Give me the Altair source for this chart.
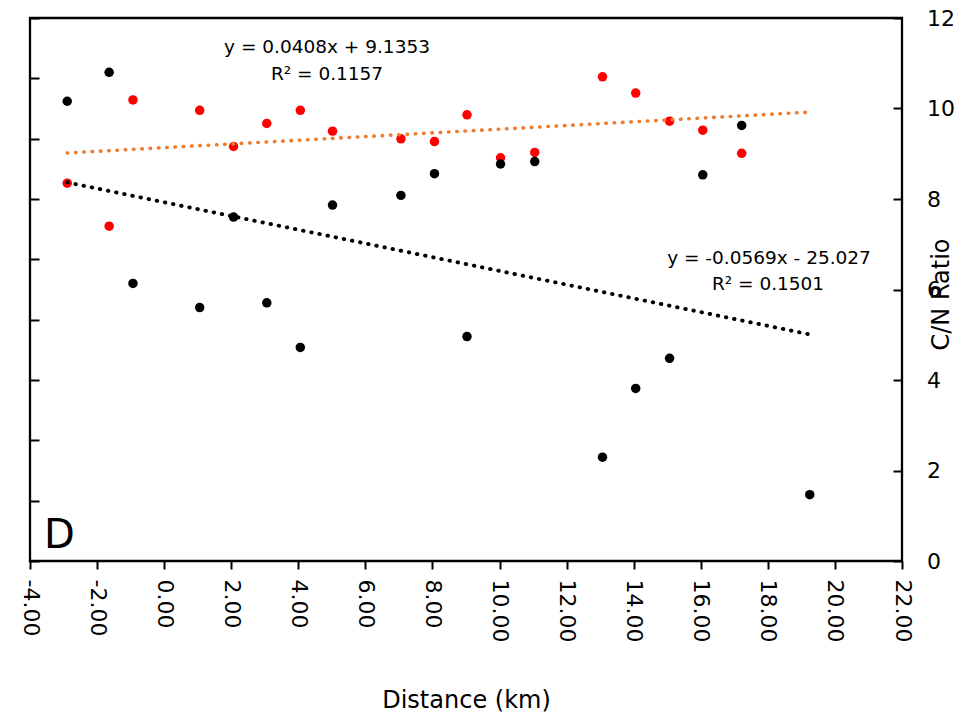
import altair as alt
import pandas as pd

# ---- data ----
distance_km = [-2.89, -1.64, -0.93, 1.06, 2.07, 3.06, 4.06, 5.02, 7.06, 8.06,
               9.03, 10.03, 11.05, 13.07, 14.06, 15.07, 16.06, 17.22, 19.25]
d13c_values = [-24.19, -23.95, -25.70, -25.90, -25.15, -25.86, -26.23, -25.05, -24.97, -24.79,
               -26.14, -24.71, -24.69, -27.14, -26.57, -26.32, -24.80, -24.39, -27.45]
cn_ratio = [8.35, 7.40, 10.19, 9.96, 9.16, 9.67, 9.96, 9.50, 9.33, 9.27,
            9.86, 8.91, 9.03, 10.70, 10.34, 9.72, 9.52, 9.01]

x_ticks = [-4, -2, 0, 2, 4, 6, 8, 10, 12, 14, 16, 18, 20, 22]
left_ticks = [-28, -27.5, -27, -26.5, -26, -25.5, -25, -24.5, -24, -23.5]
right_ticks = [0, 2, 4, 6, 8, 10, 12]

red_slope, red_intercept = 0.0408, 9.1353
black_slope, black_intercept = -0.0569, -25.027
eq_red = ["y = 0.0408x + 9.1353", "R\u00b2 = 0.1157"]
eq_black = ["y = -0.0569x - 25.027", "R\u00b2 = 0.1501"]
panel_label = "D"
x_title = "Distance (km)"
y2_title = "C/N Ratio"

FONT = "DejaVu Sans"

black_df = pd.DataFrame({"dist": distance_km, "d13c": d13c_values})
red_df = pd.DataFrame({"dist": distance_km[:len(cn_ratio)], "cn": cn_ratio})
xmin, xmax = min(distance_km), max(distance_km)
red_trend = pd.DataFrame({"dist": [xmin, xmax],
                          "cn": [red_slope * xmin + red_intercept, red_slope * xmax + red_intercept]})
black_trend = pd.DataFrame({"dist": [xmin, xmax],
                            "d13c": [black_slope * xmin + black_intercept, black_slope * xmax + black_intercept]})

x_enc = alt.X(
    "dist:Q",
    scale=alt.Scale(domain=[-4, 22], nice=False, zero=False),
    axis=alt.Axis(
        values=x_ticks,
        labelExpr="datum.value < 0 ? '-' + format(-datum.value, '.2f') : format(datum.value, '.2f')",
        labelAngle=90, labelAlign="left", labelBaseline="middle",
        labelFont=FONT, labelFontSize=22, labelColor="black", labelPadding=10,
        labelFlush=False, labelOverlap=False,
        tickSize=8, tickWidth=2, tickColor="black", domain=False, grid=False,
        title=x_title, titleFont=FONT, titleFontSize=24, titleFontWeight="normal",
        titleColor="black", titleY=146, titleBaseline="alphabetic",
    ),
)

y_black = alt.Y(
    "d13c:Q",
    scale=alt.Scale(domain=[-28, -23.5], nice=False, zero=False),
    axis=alt.Axis(orient="left", offset=-9, values=left_ticks, labels=False,
                  tickSize=9, tickWidth=2, tickColor="black", domain=False, grid=False, title=None),
)

y_red = alt.Y(
    "cn:Q",
    scale=alt.Scale(domain=[0, 12], nice=False, zero=False),
    axis=alt.Axis(orient="right", offset=-9, values=right_ticks,
                  tickSize=9, tickWidth=2, tickColor="black", domain=False, grid=False,
                  labelFont=FONT, labelFontSize=22, labelColor="black", labelPadding=24.5,
                  labelFlush=False,
                  title=y2_title, titleFont=FONT, titleFontSize=24, titleFontWeight="normal",
                  titleColor="black", titleAngle=270, titleX=55, titleY=276,
                  titleAlign="center", titleBaseline="alphabetic"),
)

red_pts = alt.Chart(red_df).mark_circle(size=90, opacity=1, color="#FF0000").encode(x=x_enc, y=y_red)
red_line = alt.Chart(red_trend).mark_line(
    color="#ED7D31", strokeWidth=3.6, strokeDash=[0.5, 7.8], strokeCap="round"
).encode(x=x_enc, y=y_red)
red_group = alt.layer(red_pts, red_line)

black_pts = alt.Chart(black_df).mark_circle(size=90, opacity=1, color="black").encode(x=x_enc, y=y_black)
black_line = alt.Chart(black_trend).mark_line(
    color="black", strokeWidth=3.9, strokeDash=[0.5, 7.8], strokeCap="round"
).encode(x=x_enc, y=y_black)
black_group = alt.layer(black_pts, black_line)


def label(txt, px, py, size=18.5, align="center"):
    return alt.Chart(pd.DataFrame({"t": [txt]})).mark_text(
        font=FONT, fontSize=size, color="black", align=align, baseline="alphabetic"
    ).encode(x=alt.value(px), y=alt.value(py), text="t:N")


texts = [
    label(eq_red[0], 297, 34.5),
    label(eq_red[1], 297, 62),
    label(eq_black[0], 739, 245.5),
    label(eq_black[1], 738, 272),
    label(panel_label, 14, 529.5, size=40, align="left"),
]

chart = alt.layer(red_group, black_group, *texts).resolve_scale(y="independent").properties(
    width=872, height=543,
    autosize=alt.AutoSizeParams(type="none"),
    padding={"left": 30, "top": 18, "right": 75, "bottom": 157},
    background="white",
).configure_view(stroke="black", strokeWidth=2.3)

chart.save("out.html", embed_options={"renderer": "svg", "actions": False})
